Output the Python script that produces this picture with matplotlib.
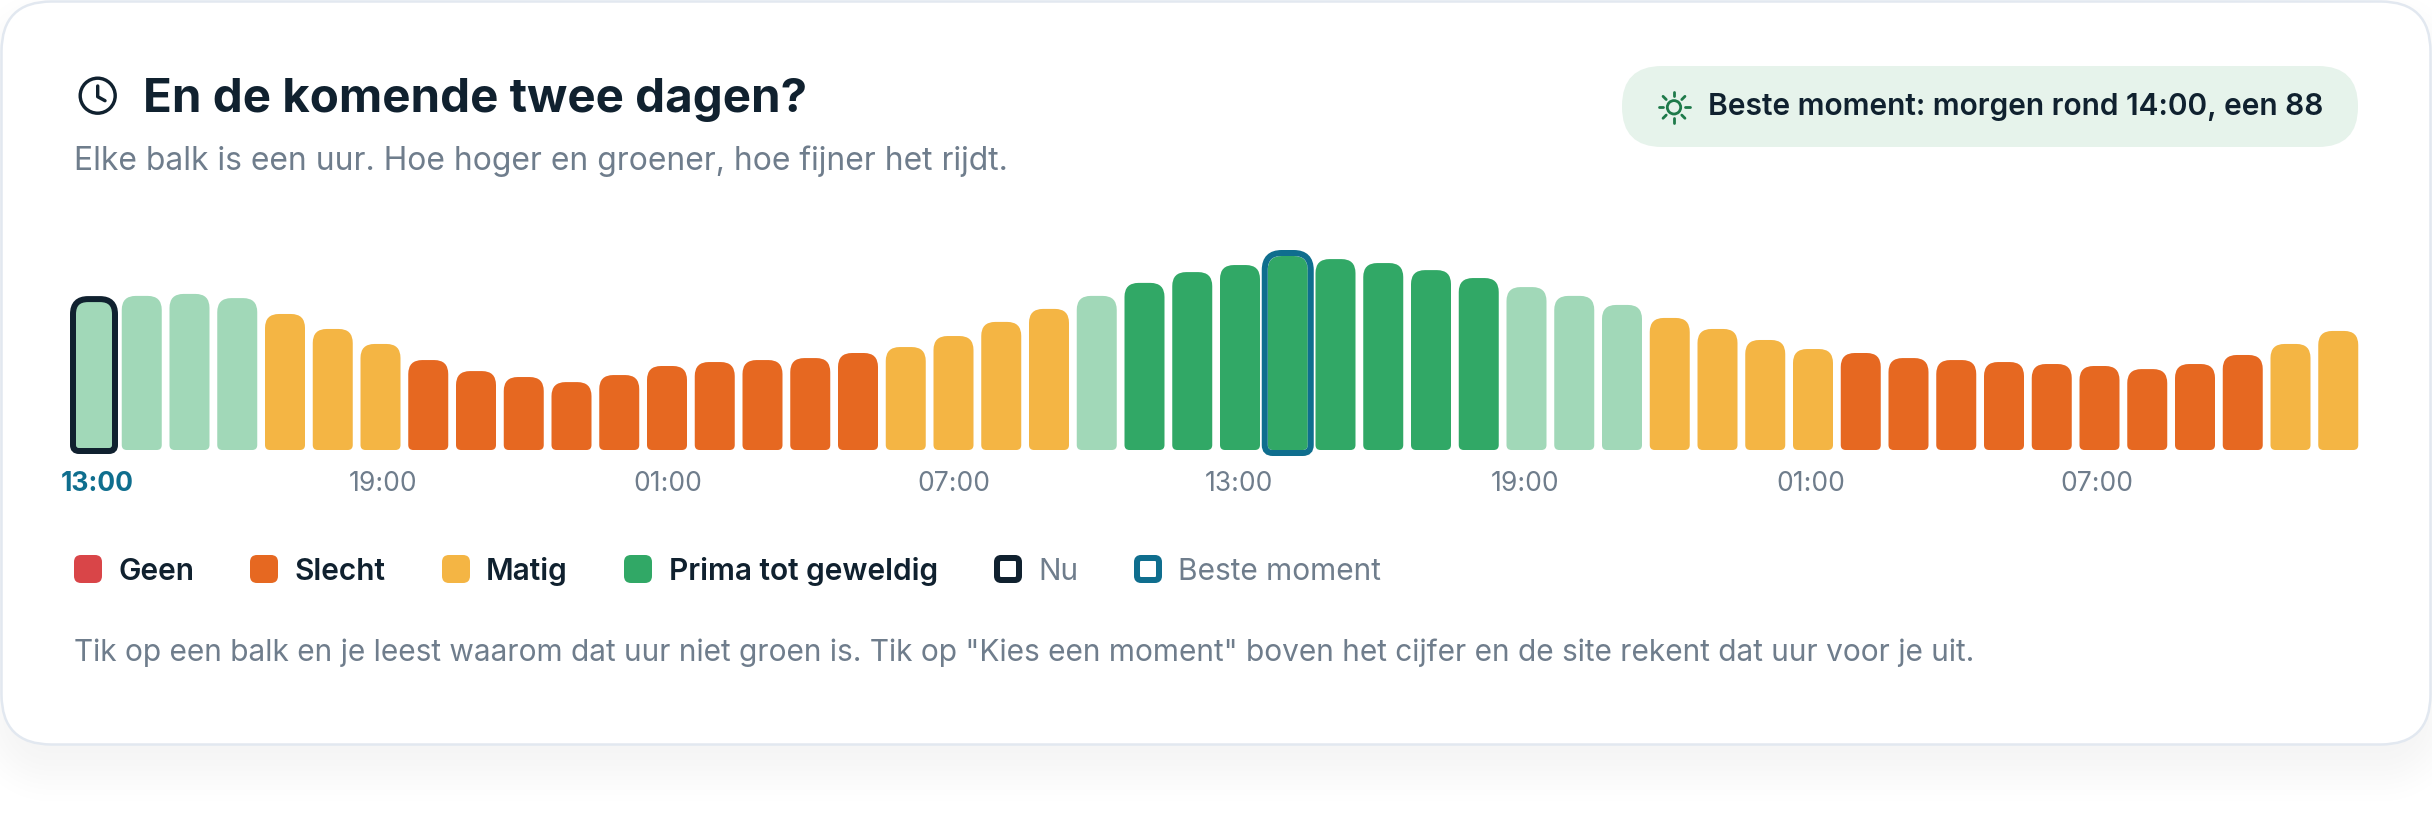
import numpy as np
import matplotlib
matplotlib.use("Agg")
import matplotlib.pyplot as plt
from matplotlib.patches import FancyBboxPatch, PathPatch, Circle
from matplotlib.path import Path
from matplotlib.transforms import ScaledTranslation

W, H = 2432, 826
PX = 0.72  # css pixel to points at dpi 100

plt.rcParams['font.family'] = ['Inter', 'DejaVu Sans']

# scores per hour
scores = [68.0, 69.9, 70.8, 68.9, 61.7, 54.9, 48.1, 40.8, 35.8, 33.1, 30.8, 34.0,
          38.1, 39.9, 40.8, 41.7, 44.0, 46.7, 51.7, 58.1, 64.0, 69.9, 75.8, 80.7,
          83.9, 88.0, 86.6, 84.8, 81.6, 78.0, 73.9, 69.9, 65.8, 59.9, 54.9, 49.9,
          45.8, 44.0, 41.7, 40.8, 39.9, 39.0, 38.1, 36.7, 39.0, 43.1, 48.1, 54.0]
tick_hours = [0, 6, 12, 18, 24, 30, 36, 42]
tick_labels = ['13:00', '19:00', '01:00', '07:00', '13:00', '19:00', '01:00', '07:00']
now_idx = 0
best_idx = 25

legend_labels = ['Geen', 'Slecht', 'Matig', 'Prima tot geweldig', 'Nu', 'Beste moment']
legend_swatch_x = [74, 250, 442, 624, 994, 1134]
legend_text_x = [118, 295, 486, 669, 1038, 1178]

RED = '#D94548'
ORANGE = '#E66821'
AMBER = '#F4B544'
MINT = '#A1D8B8'
GREEN = '#31A866'
DARK = '#10212F'
TEAL = '#0F6E8E'
GRAY = '#6F7D8C'
legend_colors = [RED, ORANGE, AMBER, GREEN, DARK, TEAL]


def bar_color(v):
    if v < 45:
        return ORANGE
    if v < 65:
        return AMBER
    if v < 75:
        return MINT
    return GREEN


def rounded_bar(x0, x1, y0, y1, rx_top, ry_top, rx_bot, ry_bot):
    verts = [(x0 + rx_bot, y0), (x1 - rx_bot, y0), (x1, y0), (x1, y0 + ry_bot),
             (x1, y1 - ry_top), (x1, y1), (x1 - rx_top, y1),
             (x0 + rx_top, y1), (x0, y1), (x0, y1 - ry_top),
             (x0, y0 + ry_bot), (x0, y0), (x0 + rx_bot, y0), (x0 + rx_bot, y0)]
    codes = [Path.MOVETO, Path.LINETO, Path.CURVE3, Path.CURVE3,
             Path.LINETO, Path.CURVE3, Path.CURVE3,
             Path.LINETO, Path.CURVE3, Path.CURVE3,
             Path.LINETO, Path.CURVE3, Path.CURVE3, Path.CLOSEPOLY]
    return Path(verts, codes)


fig = plt.figure(figsize=(W / 100, H / 100), dpi=100, facecolor='white')

# background layer in pixel coordinates
bg = fig.add_axes([0, 0, 1, 1])
bg.set_xlim(0, W)
bg.set_ylim(H, 0)
bg.axis('off')

# soft shadow under the card, distance field of an offset rounded rect
yy, xx = np.mgrid[0:H, 0:W] + 0.5
qx = np.abs(xx - W / 2) - (W / 2 - 1 - 50)
qy = np.abs(yy - (25 + 768) / 2) - ((768 - 25) / 2 - 50)
dist = np.hypot(np.maximum(qx, 0), np.maximum(qy, 0)) + np.minimum(np.maximum(qx, qy), 0) - 50
t = np.clip((dist + 25) / 72, 0, 1)
shade = 255 - 10.5 * (1 - t * t * (3 - 2 * t))
bg.imshow(shade / 255, cmap='gray', vmin=0, vmax=1, extent=(0, W, H, 0), aspect='auto',
          interpolation='bilinear', zorder=0)
bg.set_xlim(0, W)
bg.set_ylim(H, 0)

bg.add_patch(FancyBboxPatch((1.5, 1.5), 2429, 743, boxstyle="round,pad=0,rounding_size=50",
                            fc='white', ec='#E2E8F0', lw=2.5 * PX, zorder=1))

# clock icon
bg.add_patch(Circle((97.7, 95.7), 17.5, fc='none', ec=DARK, lw=3.4 * PX, zorder=2))
bg.plot([97.7, 97.7, 105], [86, 96.7, 100.7], color=DARK, lw=3.4 * PX,
        solid_capstyle='round', solid_joinstyle='round', zorder=2)

bg.text(143, 99.5, 'En de komende twee dagen?', fontsize=47.5 * PX, fontweight='bold',
        color=DARK, va='center', ha='left')
bg.text(74, 161.5, 'Elke balk is een uur. Hoe hoger en groener, hoe fijner het rijdt.',
        fontsize=31.8 * PX, color=GRAY, va='center', ha='left')

# badge with sun icon
bg.add_patch(FancyBboxPatch((1622, 66), 736, 81, boxstyle="round,pad=0,rounding_size=40",
                            fc='#E6F3EB', ec='none', zorder=2))
bg.add_patch(Circle((1674, 107.3), 6.7, fc='none', ec='#1E7A4A', lw=2.8 * PX, zorder=3))
for ang in np.deg2rad(np.arange(0, 360, 45)):
    bg.plot([1674 + 11 * np.cos(ang), 1674 + 15.5 * np.cos(ang)],
            [107.3 + 11 * np.sin(ang), 107.3 + 15.5 * np.sin(ang)],
            color='#1E7A4A', lw=2.8 * PX, solid_capstyle='round', zorder=3)
bg.text(1708, 107, 'Beste moment: morgen rond 14:00, een 88', fontsize=29.9 * PX,
        fontweight='semibold', color=DARK, va='center', ha='left', zorder=4)

# legend
for i, (lab, sx, tx, col) in enumerate(zip(legend_labels, legend_swatch_x, legend_text_x, legend_colors)):
    if i < 4:
        bg.add_patch(FancyBboxPatch((sx, 555), 28, 28, boxstyle="round,pad=0,rounding_size=7",
                                    fc=col, ec='none', zorder=2))
        bg.text(tx, 571.5, lab, fontsize=29.9 * PX, fontweight='semibold', color=DARK, va='center')
    else:
        bg.add_patch(FancyBboxPatch((sx + 3, 558), 22, 22, boxstyle="round,pad=0,rounding_size=4",
                                    fc='white', ec=col, lw=6 * PX, zorder=2))
        bg.text(tx, 571.5, lab, fontsize=29.9 * PX, color=GRAY, va='center')

bg.text(74, 652.5, 'Tik op een balk en je leest waarom dat uur niet groen is. Tik op '
        '"Kies een moment" boven het cijfer en de site rekent dat uur voor je uit.',
        fontsize=29.9 * PX, color=GRAY, va='center', ha='left')

# chart axes, bar i is centred at 94 + 47.75 * i px
PITCH = 47.75
UNIT = 194 / 88  # px per score point
ax = fig.add_axes([(94 - PITCH / 2) / W, (H - 450) / H, 48 * PITCH / W, 100 * UNIT / H])
ax.set_xlim(-0.5, 47.5)
ax.set_ylim(0, 100)
ax.patch.set_alpha(0)
for s in ax.spines.values():
    s.set_visible(False)
ax.set_yticks([])

half = 20 / PITCH
R_TOP, R_BOT = 14, 5
for i, v in enumerate(scores):
    p = rounded_bar(i - half, i + half, 0, v, R_TOP / PITCH, R_TOP / UNIT, R_BOT / PITCH, R_BOT / UNIT)
    ax.add_patch(PathPatch(p, fc=bar_color(v), ec='none', zorder=2))


def outline(i, outset, col):
    ox, oy = outset / PITCH, outset / UNIT
    p = rounded_bar(i - half - ox, i + half + ox, -oy, scores[i] + oy,
                    (R_TOP + outset) / PITCH, (R_TOP + outset) / UNIT,
                    (R_BOT + outset) / PITCH, (R_BOT + outset) / UNIT)
    ax.add_patch(PathPatch(p, fc='none', ec=col, lw=6 * PX, zorder=3, clip_on=False))


outline(now_idx, 1, DARK)
outline(best_idx, 3, TEAL)

ax.set_xticks(tick_hours)
ax.set_xticklabels(tick_labels, fontsize=26.5 * PX, color=GRAY)
ax.tick_params(axis='x', length=0, pad=21 * PX)
first = ax.get_xticklabels()[0]
first.set_color(TEAL)
first.set_fontweight('bold')
# labels in the original sit a little off the bar centres
for lab, nudge in zip(ax.get_xticklabels(), [3, 2.5, 1, 0, -1, -1, -2, -3]):
    lab.set_transform(lab.get_transform() + ScaledTranslation(nudge / 100, 0, fig.dpi_scale_trans))

fig.savefig('out.png', dpi=100)
